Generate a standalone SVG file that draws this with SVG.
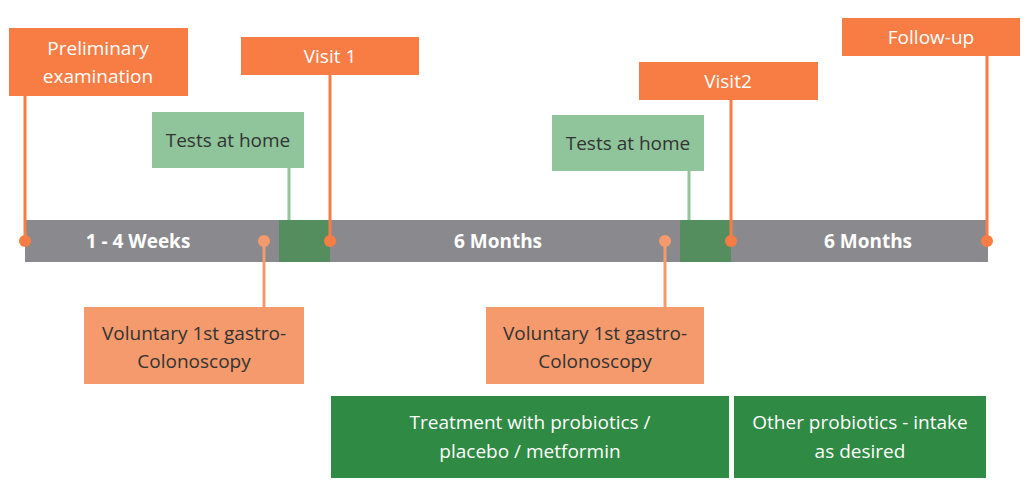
<svg xmlns="http://www.w3.org/2000/svg" width="1030" height="496" viewBox="0 0 1030 496">
<style>
text{font-family:"Open Sans","Liberation Sans",sans-serif;font-size:19px;text-anchor:middle}
.w{fill:#fff}.d{fill:#333}.b{font-weight:bold;fill:#fff}
.o{fill:#f87d45}.lg{fill:#90c59c}.po{fill:#f49a6c}.dg{fill:#2f8a43}
.ol{stroke:#f87d45;stroke-width:3}.gl{stroke:#90c59c;stroke-width:3}.pl{stroke:#f49a6c;stroke-width:3}
</style>
<rect x="0" y="0" width="1030" height="496" fill="#fff"/>
<g id="bar">
<rect x="25" y="220" width="963" height="42" fill="#8a8a8e"/>
<rect x="279" y="220" width="51" height="42" fill="#548e5f"/>
<rect x="680" y="220" width="51" height="42" fill="#548e5f"/>
<text class="b" x="138" y="248">1 - 4 Weeks</text>
<text class="b" x="498" y="248">6 Months</text>
<text class="b" x="868" y="248">6 Months</text>
</g>
<g id="connectors">
<line class="ol" x1="25" y1="96" x2="25" y2="241"/>
<line class="ol" x1="330" y1="75" x2="330" y2="241"/>
<line class="ol" x1="731" y1="100" x2="731" y2="241"/>
<line class="ol" x1="987" y1="56" x2="987" y2="241"/>
<line class="gl" x1="289" y1="168" x2="289" y2="220"/>
<line class="gl" x1="689" y1="171" x2="689" y2="220"/>
<line class="pl" x1="264" y1="241" x2="264" y2="307"/>
<line class="pl" x1="665" y1="241" x2="665" y2="307"/>
</g>
<g id="dots" fill="#f87d45">
<circle cx="25" cy="241" r="6"/><circle cx="264" cy="241" r="6" fill="#f49a6c"/><circle cx="330" cy="241" r="6"/>
<circle cx="665" cy="241" r="6" fill="#f49a6c"/><circle cx="731" cy="241" r="6"/><circle cx="987" cy="241" r="6"/>
</g>
<g id="prelim"><rect class="o" x="9" y="28" width="179" height="68"/><text class="w" x="98" y="55">Preliminary</text><text class="w" x="98" y="83">examination</text></g>
<g id="visit1"><rect class="o" x="241" y="37" width="178" height="38"/><text class="w" x="330" y="63">Visit 1</text></g>
<g id="visit2"><rect class="o" x="639" y="62" width="179" height="38"/><text class="w" x="728" y="88">Visit2</text></g>
<g id="followup"><rect class="o" x="842" y="18" width="178" height="38"/><text class="w" x="931" y="44">Follow-up</text></g>
<g id="tests1"><rect class="lg" x="152" y="112" width="152" height="56"/><text class="d" x="228" y="147">Tests at home</text></g>
<g id="tests2"><rect class="lg" x="552" y="115" width="152" height="56"/><text class="d" x="628" y="150">Tests at home</text></g>
<g id="vol1"><rect class="po" x="84" y="307" width="220" height="77"/><text class="d" x="194" y="340">Voluntary 1st gastro-</text><text class="d" x="194" y="368">Colonoscopy</text></g>
<g id="vol2"><rect class="po" x="486" y="307" width="218" height="77"/><text class="d" x="595" y="340">Voluntary 1st gastro-</text><text class="d" x="595" y="368">Colonoscopy</text></g>
<g id="treat"><rect class="dg" x="331" y="396" width="398" height="82"/><text class="w" x="530" y="429">Treatment with probiotics /</text><text class="w" x="530" y="458">placebo / metformin</text></g>
<g id="other"><rect class="dg" x="734" y="396" width="252" height="82"/><text class="w" x="860" y="429">Other probiotics - intake</text><text class="w" x="860" y="458">as desired</text></g>
</svg>
